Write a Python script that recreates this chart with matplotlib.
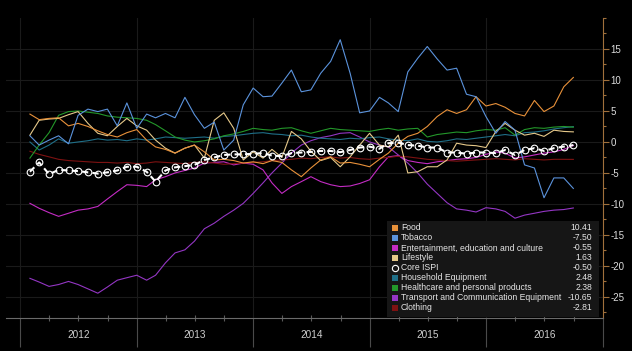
import matplotlib
matplotlib.use("Agg")
import matplotlib.pyplot as plt
import matplotlib.dates as mdates
from matplotlib.patches import Rectangle
from matplotlib.lines import Line2D
from matplotlib.ticker import FixedLocator, MultipleLocator
import pandas as pd

plt.rcParams["font.family"] = ["Liberation Sans", "DejaVu Sans"]
plt.rcParams["axes.unicode_minus"] = False

# monthly data, Jan 2012 - Sep 2016 (month end)
dates = pd.date_range("2012-01-01", periods=57, freq="MS") + pd.offsets.MonthEnd(0)
years = [2012, 2013, 2014, 2015, 2016]

food = [4.5, 3.6, 3.8, 3.9, 2.6, 3.0, 2.5, 1.8, 1.2, 0.8, 1.5, 2.0,
        0.3, -0.8, -1.2, -1.8, -1.0, -0.5, -1.6, -2.9, -2.8, -3.0, -3.4, -3.2,
        -3.5, -3.0, -3.3, -4.5, -5.6, -4.2, -2.9, -2.4, -3.4, -3.3, -3.6, -4.0,
        -2.8, -1.8, -0.2, 0.9, 1.4, 2.5, 4.1, 5.2, 4.6, 5.2, 7.3, 5.8,
        6.2, 5.6, 4.6, 4.2, 6.7, 4.9, 5.8, 8.9, 10.41]
tobacco = [1.0, -0.5, 0.3, 1.0, -0.3, 4.3, 5.3, 4.9, 5.3, 2.6, 6.3, 2.2,
           4.5, 3.9, 4.6, 3.9, 7.2, 4.4, 2.2, 3.2, -1.3, 0.3, 6.0, 8.7,
           7.3, 7.4, 9.5, 11.6, 8.1, 8.4, 11.1, 13.0, 16.5, 11.1, 4.7, 5.0,
           7.2, 6.3, 4.9, 11.3, 13.5, 15.4, 13.4, 11.6, 11.9, 7.7, 7.3, 4.1,
           1.4, 3.3, 1.9, -3.7, -4.2, -9.0, -5.8, -5.8, -7.50]
entertainment = [-9.9, -10.7, -11.4, -12.0, -11.5, -11.0, -10.8, -10.4, -9.2, -8.0, -6.9, -7.0,
                 -7.2, -6.1, -5.6, -5.0, -4.6, -4.2, -3.4, -3.3, -3.2, -3.7, -3.4, -3.6,
                 -4.5, -6.6, -8.3, -7.2, -6.4, -5.6, -6.4, -6.9, -7.2, -7.1, -6.7, -6.1,
                 -4.0, -2.4, -2.2, -3.0, -3.3, -3.5, -3.2, -3.0, -2.8, -2.7, -2.5, -2.0,
                 -1.6, -1.8, -2.6, -2.4, -2.1, -1.8, -1.6, -1.2, -0.55]
lifestyle = [1.1, 3.5, 3.7, 3.8, 4.4, 4.9, 3.0, 1.4, 1.0, 2.5, 3.8, 2.6,
             1.9, 0.3, -1.0, -1.8, -1.0, -0.5, -2.6, 3.5, 4.7, 2.2, -2.9, -1.6,
             -2.6, -1.2, -2.5, 1.7, 0.5, -1.5, -3.0, -2.5, -4.0, -2.4, -0.5, 1.4,
             -0.5, -0.8, 1.1, -5.0, -4.8, -4.0, -4.0, -2.9, -0.2, -0.5, -0.6, -0.9,
             1.7, 3.0, 1.9, 1.1, 1.4, 0.9, 1.9, 1.7, 1.63]
core_ispi = [-4.8, -3.3, -5.2, -4.5, -4.6, -4.7, -4.9, -5.1, -4.9, -4.6, -4.0, -4.0,
             -4.8, -6.4, -4.6, -4.1, -3.9, -3.7, -2.9, -2.5, -2.1, -2.0, -2.0, -1.9,
             -1.8, -2.2, -2.3, -1.8, -1.7, -1.6, -1.45, -1.45, -1.65, -1.3, -0.9, -0.75,
             -1.1, -0.2, -0.1, -0.5, -0.6, -0.9, -0.9, -1.7, -1.7, -1.9, -1.7, -1.7,
             -1.8, -1.3, -2.1, -1.3, -1.0, -1.45, -1.0, -0.75, -0.50]
household = [0.0, -1.3, -0.5, 0.5, -0.2, 0.0, 0.2, 0.5, 0.3, 0.4, 0.2, 0.5,
             0.3, 0.5, 0.8, 0.7, 0.6, 0.7, 0.8, 0.6, 0.9, 1.0, 1.2, 1.4,
             1.5, 1.3, 1.2, 1.0, 1.1, 0.8, 0.6, 0.5, 0.4, 0.6, 0.5, 0.7,
             0.8, 0.5, 0.3, 0.2, 0.5, 0.1, 0.0, 0.2, 0.5, 0.4, 0.6, 0.8,
             1.0, 1.2, 1.0, 1.5, 1.6, 1.8, 2.1, 2.3, 2.48]
healthcare = [-2.6, -0.5, 1.5, 4.3, 4.9, 5.0, 4.8, 4.6, 4.2, 4.0, 3.9, 3.8,
              3.5, 2.8, 1.8, 0.8, 0.3, 0.0, 0.2, 0.5, 1.0, 1.3, 1.7, 2.2,
              2.0, 1.9, 2.2, 2.3, 1.8, 1.4, 1.8, 2.2, 2.0, 1.9, 1.8, 1.7,
              2.0, 2.2, 1.9, 2.1, 2.2, 0.8, 1.2, 1.4, 1.6, 1.5, 1.8, 2.0,
              1.9, 2.3, 1.1, 2.0, 2.3, 2.2, 2.4, 2.5, 2.38]
transport = [-22.0, -22.6, -23.3, -23.0, -22.5, -23.0, -23.7, -24.4, -23.4, -22.3, -21.9, -21.5,
             -22.3, -21.5, -19.5, -17.9, -17.4, -16.0, -14.0, -13.1, -12.0, -11.0, -9.9, -8.3,
             -6.6, -5.0, -3.4, -1.8, -0.5, 0.2, 0.7, 1.0, 1.4, 1.5, 0.8, 0.0,
             -0.5, -0.8, -2.1, -3.4, -5.0, -6.8, -8.3, -9.8, -10.8, -11.0, -11.3, -10.6,
             -10.8, -11.2, -12.3, -11.8, -11.5, -11.2, -11.0, -10.9, -10.65]
clothing = [-1.5, -2.0, -2.4, -2.8, -3.0, -3.1, -3.2, -3.3, -3.3, -3.4, -3.3, -3.5,
            -3.4, -3.2, -3.3, -3.4, -3.5, -3.3, -3.2, -3.4, -3.6, -3.5, -3.4, -3.3,
            -3.2, -3.0, -2.9, -2.8, -2.6, -2.7, -2.5, -2.4, -2.6, -2.5, -2.7, -2.8,
            -2.6, -2.5, -2.3, -2.4, -2.6, -2.8, -2.9, -3.0, -3.1, -3.0, -2.9, -2.8,
            -2.7, -2.8, -2.9, -2.7, -2.8, -2.9, -2.8, -2.8, -2.81]

names = ["Food", "Tobacco", "Entertainment, education and culture", "Lifestyle",
         "Core ISPI", "Household Equipment", "Healthcare and personal products",
         "Transport and Communication Equipment", "Clothing"]
series = [food, tobacco, entertainment, lifestyle, core_ispi,
          household, healthcare, transport, clothing]
colors = ["#e8913a", "#5b93dc", "#c42cc4", "#e6c98a", "#ffffff",
          "#1f6f88", "#23972a", "#9436c4", "#7e1212"]

W, H = 632, 351
fig = plt.figure(figsize=(W / 100, H / 100), dpi=100, facecolor="black")
ax = fig.add_axes([6 / W, 1 - 318 / H, 597 / W, 300 / H])
ax.set_facecolor("black")

# draw order: Core ISPI last
for i in [7, 2, 8, 5, 6, 3, 0, 1]:
    ax.plot(dates, series[i], color=colors[i], lw=0.8, zorder=2)
ax.plot(dates, core_ispi, color="white", lw=1.5, ls=(0, (3, 2)),
        marker="o", ms=4.8, mfc="none", mec="white", mew=0.8, zorder=3)

ax.set_xlim(pd.Timestamp("2011-11-17"), pd.Timestamp("2017-01-01"))
ax.set_ylim(-28.4, 20)

ax.xaxis.set_major_locator(mdates.YearLocator())
ax.xaxis.set_minor_locator(mdates.MonthLocator(bymonth=[4, 7, 10]))
ax.tick_params(axis="x", which="major", length=21, width=0.8, direction="out",
               color="#4a4a4a", labelbottom=False)
ax.tick_params(axis="x", which="minor", length=5, width=0.8, direction="inout",
               color="#5a5a5a")
for yr in years:
    ax.text(mdates.date2num(pd.Timestamp(f"{yr}-07-01")), -0.055, str(yr),
            transform=ax.get_xaxis_transform(), ha="center", va="center",
            color="#cfcfcf", fontsize=7.2)

ax.yaxis.tick_right()
ax.yaxis.set_major_locator(FixedLocator(list(range(-25, 20, 5))))
ax.yaxis.set_minor_locator(MultipleLocator(2.5))
ax.tick_params(axis="y", which="major", length=4, width=0.8, direction="out",
               color="#a0703c", labelcolor="#dddddd", labelsize=7, pad=1.5)
ax.tick_params(axis="y", which="minor", length=2.5, width=0.8, direction="out",
               color="#a0703c")

ax.grid(True, which="major", color="#1a1a1a", lw=0.8, zorder=0)
ax.set_axisbelow(True)
for s in ["left", "top"]:
    ax.spines[s].set_visible(False)
ax.spines["right"].set_color("#a0703c")
ax.spines["right"].set_linewidth(0.8)
ax.spines["bottom"].set_color("#6a6a6a")
ax.spines["bottom"].set_linewidth(0.8)

# legend box (pixel positions)
lx0, ly0, lx1, ly1 = 387, 221, 599, 317
fig.add_artist(Rectangle((lx0 / W, 1 - ly1 / H), (lx1 - lx0) / W, (ly1 - ly0) / H,
                         transform=fig.transFigure, facecolor="#161616",
                         edgecolor="none", zorder=5))
for i, name in enumerate(names):
    yc = 228 + i * 10.0
    if name == "Core ISPI":
        fig.add_artist(Line2D([395 / W], [1 - yc / H], transform=fig.transFigure,
                              marker="o", ms=4.5, mfc="none", mec="white",
                              mew=0.8, ls="none", zorder=6))
    else:
        fig.add_artist(Rectangle((392 / W, 1 - (yc + 3) / H), 6 / W, 6 / H,
                                 transform=fig.transFigure, facecolor=colors[i],
                                 edgecolor="none", zorder=6))
    fig.text(401 / W, 1 - yc / H, name, color="#e6e6e6", fontsize=6.2,
             ha="left", va="center", zorder=6)
    fig.text(592 / W, 1 - yc / H, f"{series[i][-1]:.2f}", color="#e6e6e6",
             fontsize=6.2, ha="right", va="center", zorder=6)

fig.savefig("out.png", dpi=100, facecolor="black")
